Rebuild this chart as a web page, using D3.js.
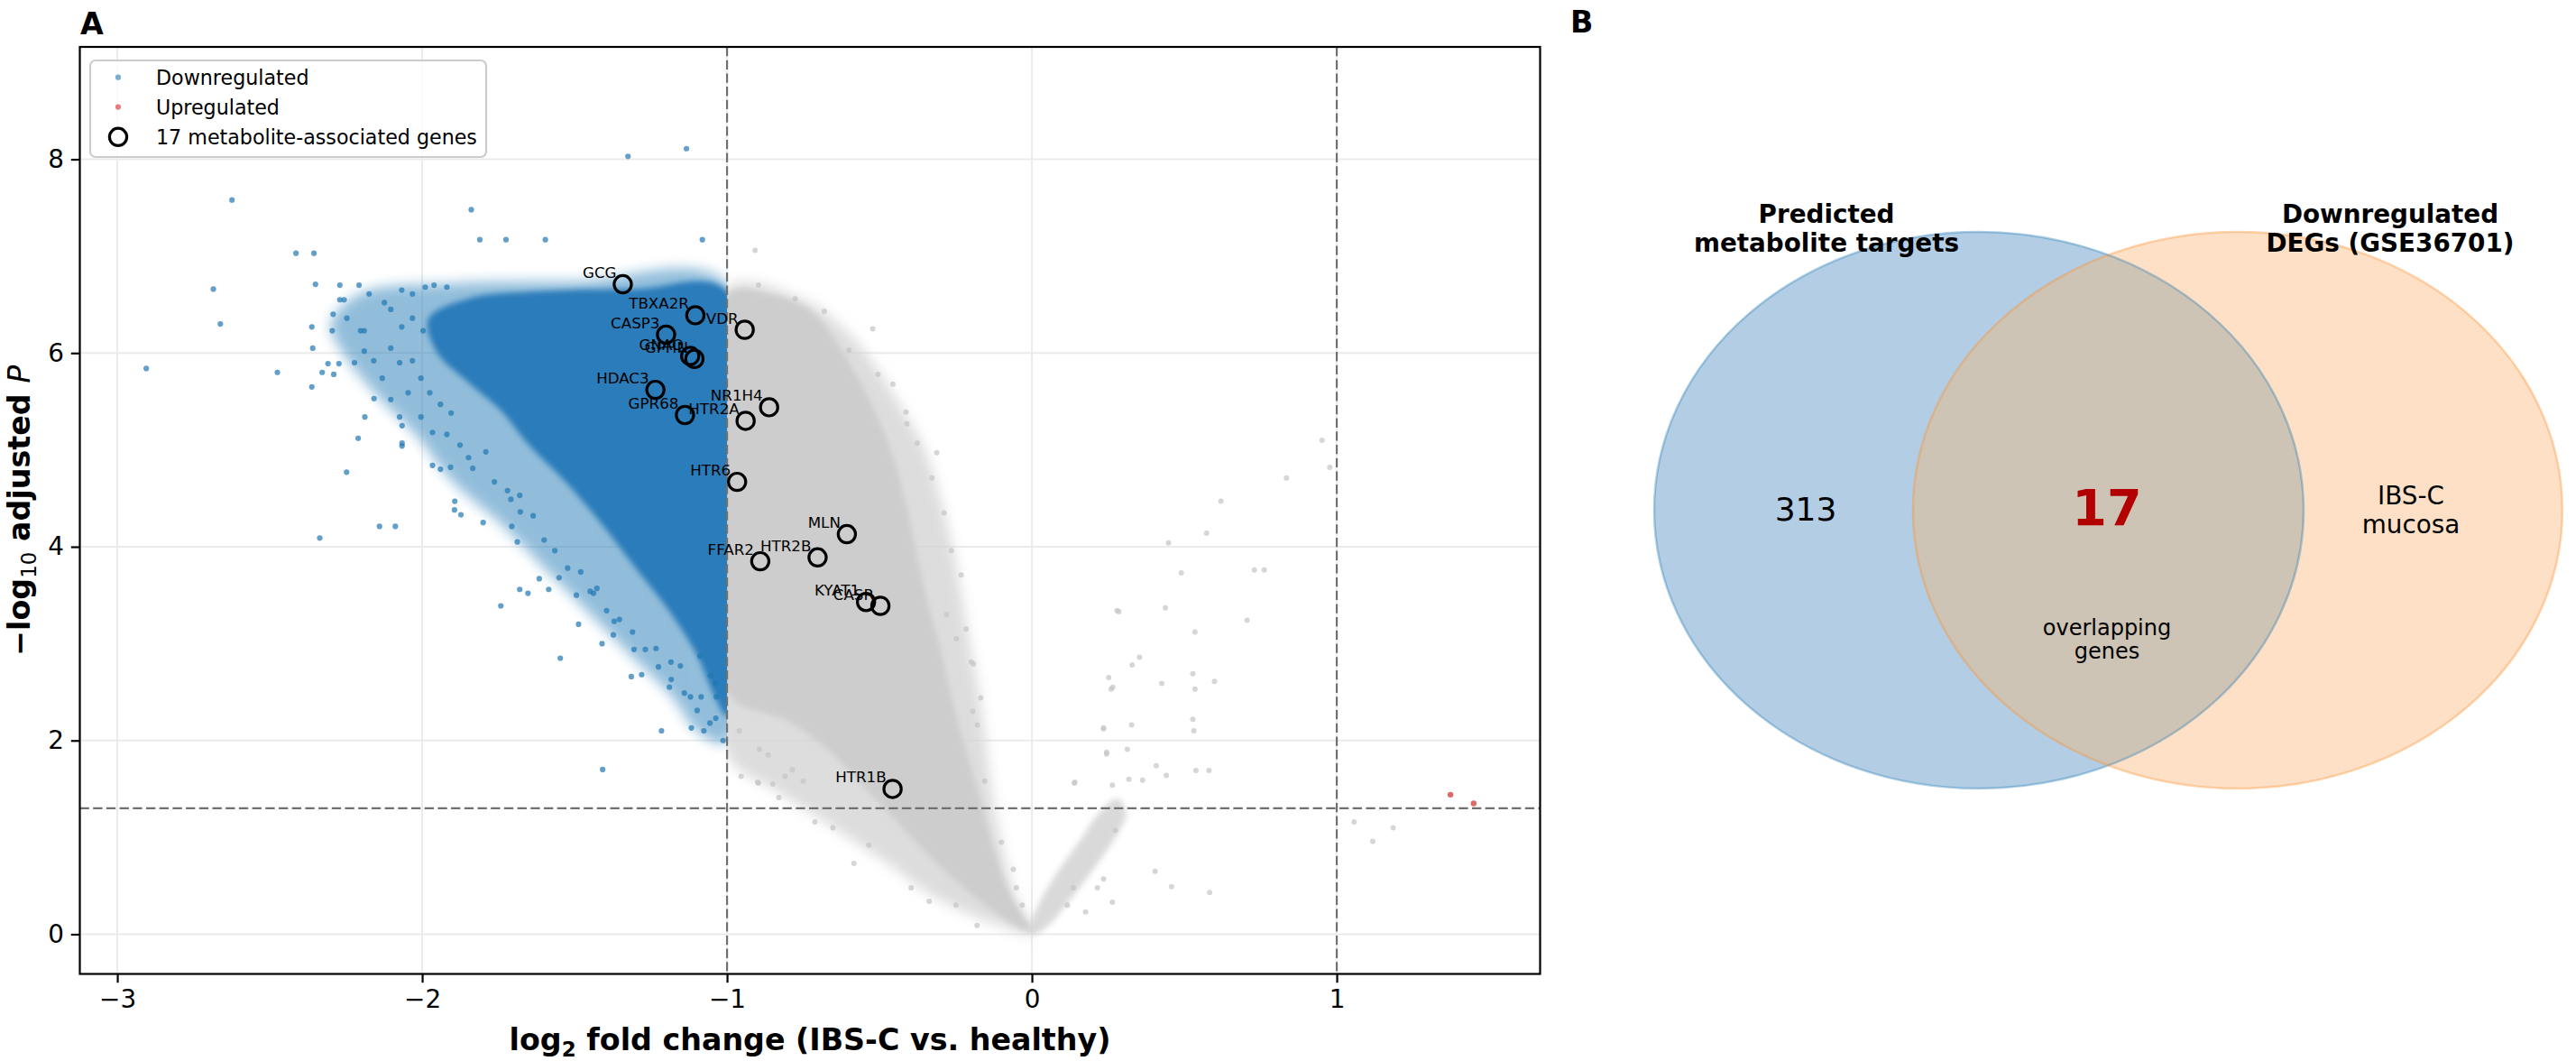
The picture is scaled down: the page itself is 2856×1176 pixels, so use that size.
<!DOCTYPE html>
<html>
<head>
<meta charset="utf-8">
<style>
    body { margin: 0; background: white; }
    svg text { font-family: "DejaVu Sans", sans-serif; }
</style>
<script src="https://cdn.jsdelivr.net/npm/d3@7"></script>
</head>
<body>
<svg id="figure"></svg>
<script>
// ---- panel A data ----
const xTicks = [-3, -2, -1, 0, 1];
const yTicks = [0, 2, 4, 6, 8];
const lfcCut = [-1, 1];
const padjCut = 1.301;

const geneNames = ["GCG", "TBXA2R", "VDR", "CASP3", "GNAQ", "GPHN", "HDAC3", "NR1H4", "GPR68",
                   "HTR2A", "HTR6", "MLN", "HTR2B", "FFAR2", "KYAT1", "CASR", "HTR1B"];
const geneLfc = [-1.342, -1.104, -0.942, -1.200, -1.121, -1.107, -1.235, -0.862, -1.138,
                 -0.939, -0.967, -0.607, -0.703, -0.891, -0.544, -0.497, -0.457];
const geneLogP = [6.71, 6.39, 6.24, 6.19, 5.97, 5.94, 5.62, 5.44, 5.36,
                  5.30, 4.67, 4.13, 3.89, 3.85, 3.43, 3.39, 1.50];

const upLfc = [1.373, 1.449];
const upLogP = [1.44, 1.35];

// dense parts of the clouds, traced as outlines [lfc, -log10 p]
const blueCoreOutline = [[-1,6.64],[-1.3,6.66],[-1.6,6.64],[-1.85,6.56],[-1.98,6.35],[-1.95,6.0],[-1.85,5.7],
    [-1.74,5.4],[-1.65,5.05],[-1.53,4.67],[-1.41,4.23],[-1.3,3.78],[-1.19,3.34],[-1.1,2.89],[-1.04,2.45],[-1.0,2.25]];
const blueHaloOutline = [[-1,6.72],[-1.5,6.74],[-1.9,6.72],[-2.2,6.62],[-2.3,6.3],[-2.26,6.0],[-2.16,5.6],
    [-2.02,5.15],[-1.9,4.67],[-1.74,4.23],[-1.6,3.78],[-1.46,3.34],[-1.32,2.89],[-1.18,2.45],[-1.1,2.1],[-1.0,1.98]];
const grayHaloOutline = [[-1,6.68],[-0.9,6.72],[-0.8,6.62],[-0.7,6.47],[-0.6,6.2],[-0.52,5.9],[-0.43,5.45],
    [-0.35,5.0],[-0.3,4.5],[-0.26,4.0],[-0.23,3.5],[-0.2,2.95],[-0.17,2.45],[-0.15,1.95],[-0.13,1.45],
    [-0.1,0.95],[-0.06,0.45],[0,0.0],[-0.08,0.06],[-0.2,0.2],[-0.34,0.42],[-0.46,0.7],[-0.58,0.95],
    [-0.7,1.2],[-0.85,1.5],[-1,1.85]];
const grayCoreOutline = [[-1,6.6],[-0.85,6.6],[-0.72,6.42],[-0.62,6.0],[-0.53,5.5],[-0.46,4.97],[-0.41,4.4],
    [-0.38,3.96],[-0.34,3.4],[-0.30,2.95],[-0.26,2.4],[-0.22,1.94],[-0.17,1.4],[-0.13,0.93],[-0.07,0.4],
    [0,0.02],[-0.06,0.1],[-0.16,0.32],[-0.26,0.58],[-0.36,0.88],[-0.46,1.22],[-0.56,1.55],[-0.66,1.88],
    [-0.8,2.2],[-1,2.5]];
const grayWingOutline = [[0,0],[0.04,0.05],[0.12,0.33],[0.2,0.66],[0.27,0.98],[0.31,1.25],[0.28,1.4],
    [0.22,1.25],[0.16,0.98],[0.09,0.67],[0.03,0.36],[-0.01,0.05]];

// single points outside the dense parts
const blueScatter = [[-2.624,7.58],[-1.325,8.03],[-1.133,8.11],[-1.839,7.48],[-1.811,7.17],[-1.725,7.17],
    [-1.596,7.17],[-1.081,7.17],[-2.414,7.03],[-2.355,7.03],[-2.685,6.66],[-2.35,6.71],[-2.662,6.30],
    [-2.905,5.84],[-2.475,5.80],[-2.362,6.27],[-2.359,6.05],[-2.362,5.65],[-2.27,6.70],[-2.207,6.70],
    [-2.27,6.55],[-2.256,6.55],[-2.174,6.61],[-2.292,6.40],[-2.247,6.36],[-2.295,6.23],[-2.19,6.23],
    [-2.309,5.89],[-2.273,5.89],[-2.29,5.78],[-2.328,5.80],[-2.222,5.90],[-2.19,6.02],[-2.158,5.53],
    [-2.188,5.34],[-2.21,5.12],[-2.248,4.77],[-2.336,4.09],[-2.14,4.21],[-2.088,4.21],[-2.066,5.25],
    [-2.066,5.07],[-2.066,5.04],[-1.966,5.18],[-1.966,4.84],[-1.94,4.80],[-1.907,4.82],[-1.893,4.47],
    [-1.873,4.33],[-1.894,4.38],[-1.8,4.25],[-1.742,3.39],[-1.68,3.56],[-1.653,3.52],[-1.547,2.85],
    [-1.487,3.20],[-1.408,1.70],[-1.314,2.66],[-1.28,2.68],[-1.215,2.10],[-1.117,2.13],[-1.076,2.10],
    [-1.037,2.23],[-1.12,2.45],[-1.085,2.45],[-1.035,2.45],[-1.189,2.55],[-1.616,3.67],[-1.551,3.68],
    [-1.585,3.56],[-1.706,4.21],[-1.688,4.05],[-1.709,4.49],[-1.68,4.53],[-1.494,3.50],[-1.449,3.54],
    [-1.427,3.57],[-1.373,3.09],[-1.305,2.94],[-1.233,2.95],[-1.41,3.0],[-1.37,3.23],[-1.184,2.81],
    [-1.153,2.77],[-1.055,2.67],[-1.038,2.59],[-1.089,2.87],[-2.124,6.52],[-2.103,6.45],[-2.067,6.65],
    [-2.032,6.61],[-1.99,6.68],[-1.961,6.70],[-1.919,6.68],[-2.067,6.27],[-2.032,6.36],[-1.997,6.23],
    [-2.103,6.05],[-2.074,5.90],[-2.032,5.92],[-2.004,5.74],[-2.046,5.59],[-1.975,5.59],[-1.94,5.47],
    [-1.905,5.38],[-2.004,5.34],[-1.919,5.16],[-1.876,5.05],[-1.848,4.92],[-1.834,4.81],[-1.791,4.98],
    [-1.763,4.67],[-1.72,4.58],[-1.678,4.36],[-1.636,4.32],[-1.60,4.07],[-1.565,3.96],[-1.523,3.78],
    [-1.48,3.74],[-1.438,3.52],[-1.395,3.34],[-1.353,3.25],[-1.31,3.12],[-1.268,2.94],[-1.225,2.76],
    [-1.183,2.63],[-1.14,2.49],[-1.098,2.31],[-1.056,2.18],[-1.013,2.0],[-2.202,6.23],[-2.159,5.92],
    [-2.131,5.74],[-2.103,5.52],[-2.074,5.34]];
const grayScatter = [[-0.954,1.63],[-0.90,1.57],[-0.85,1.55],[-0.81,1.63],[-0.786,1.70],[-0.75,1.58],
    [-0.865,1.85],[-0.894,1.91],[-0.96,2.10],[-0.83,1.41],[-0.712,1.16],[-0.653,1.10],[-0.584,0.73],
    [-0.535,0.92],[-0.396,0.48],[-0.337,0.34],[-0.249,0.30],[-0.18,0.09],[0.235,2.13],[0.245,1.88],
    [0.141,1.57],[0.264,1.54],[0.274,1.07],[0.26,2.53],[0.279,3.34],[0.235,0.57],[0.176,0.23],
    [0.215,0.48],[0.264,0.33],[0.136,0.48],[0.116,0.30],[-0.199,2.81],[-0.194,2.30],[-0.179,2.16],
    [-0.155,1.58],[-0.10,0.95],[-0.061,0.67],[-0.051,0.48],[-0.032,0.30],[-0.908,7.06],[-0.897,6.70],
    [-0.777,6.56],[-0.681,6.43],[-0.522,6.25],[-0.505,5.78],[-0.413,5.39],[-0.376,5.07],[-0.328,4.71],
    [-0.288,4.35],[-0.264,3.96],[-0.232,3.71],[-0.192,2.79],[-0.216,3.15],[-0.248,3.05],[-0.28,3.30],
    [-0.168,2.44],[-0.312,4.97],[-0.41,5.27],[-0.456,5.68],[-0.6,6.03],[-0.897,1.56],
    [0.952,5.10],[0.977,4.82],[0.835,4.71],[0.620,4.47],[0.573,4.14],[0.448,4.04],[0.490,3.73],
    [0.730,3.76],[0.762,3.76],[0.706,3.24],[0.438,3.37],[0.535,3.12],[0.285,3.33],[0.353,2.86],
    [0.329,2.78],[0.252,2.65],[0.265,2.55],[0.426,2.59],[0.528,2.69],[0.599,2.61],[0.535,2.53],
    [0.528,2.22],[0.531,2.10],[0.235,2.12],[0.327,2.16],[0.245,1.86],[0.313,1.91],[0.408,1.74],
    [0.441,1.64],[0.318,1.60],[0.363,1.59],[0.139,1.56],[0.538,1.69],[0.581,1.69],[1.057,1.16],
    [1.185,1.10],[1.118,0.96],[0.404,0.65],[0.458,0.49],[0.583,0.43]];

const legendLabels = ["Downregulated", "Upregulated", "17 metabolite-associated genes"];

// ---- panel B data ----
const vennTitles = [["Predicted", "metabolite targets"], ["Downregulated", "DEGs (GSE36701)"]];
const vennOnlyLeft = "313";
const vennShared = "17";
const vennShareNote = ["overlapping", "genes"];
const vennRightNote = ["IBS-C", "mucosa"];

const svg = d3.select("#figure").attr("width", 2856).attr("height", 1176);

function getVolcanoConfig() {
    let left = 88.5, right = 1707.5, top = 52, bottom = 1079.5;
    let xScale = d3.scaleLinear().domain([-3.123, 1.667]).range([left, right]);
    let yScale = d3.scaleLinear().domain([-0.41, 9.16]).range([bottom, top]);
    return { left, right, top, bottom, xScale, yScale };
}

function drawVolcano() {
    let { left, right, top, bottom, xScale, yScale } = getVolcanoConfig();
    let g = svg.append("g");

    let defs = svg.append("defs");
    defs.append("filter").attr("id", "soft").attr("x", "-20%").attr("y", "-20%").attr("width", "140%").attr("height", "140%")
        .append("feGaussianBlur").attr("stdDeviation", 7);
    defs.append("filter").attr("id", "softer").attr("x", "-20%").attr("y", "-20%").attr("width", "140%").attr("height", "140%")
        .append("feGaussianBlur").attr("stdDeviation", 3);
    defs.append("clipPath").attr("id", "grayClip").append("rect")
        .attr("x", xScale(-1)).attr("y", top).attr("width", right - xScale(-1)).attr("height", bottom - top);
    defs.append("clipPath").attr("id", "blueClip").append("rect")
        .attr("x", left).attr("y", top).attr("width", xScale(-1) - left).attr("height", bottom - top);

    // grid
    g.selectAll(".gx").data(xTicks).enter().append("line")
        .attr("x1", d => xScale(d)).attr("x2", d => xScale(d)).attr("y1", top).attr("y2", bottom)
        .attr("stroke", "#ebebeb").attr("stroke-width", 2);
    g.selectAll(".gy").data(yTicks).enter().append("line")
        .attr("y1", d => yScale(d)).attr("y2", d => yScale(d)).attr("x1", left).attr("x2", right)
        .attr("stroke", "#ebebeb").attr("stroke-width", 2);

    let area = d3.line().x(d => xScale(d[0])).y(d => yScale(d[1])).curve(d3.curveCatmullRomClosed.alpha(0.5));

    // gray (not significant) cloud
    let grayG = g.append("g").attr("clip-path", "url(#grayClip)");
    grayG.append("path").attr("d", area(grayHaloOutline)).attr("fill", "#d2d2d2").attr("opacity", 0.75).attr("filter", "url(#soft)");
    grayG.append("path").attr("d", area(grayWingOutline)).attr("fill", "#d0d0d0").attr("opacity", 0.8).attr("filter", "url(#softer)");
    grayG.append("path").attr("d", area(grayCoreOutline)).attr("fill", "#cdcdcd").attr("filter", "url(#softer)");
    g.selectAll(".gdot").data(grayScatter).enter().append("circle")
        .attr("cx", d => xScale(d[0])).attr("cy", d => yScale(d[1])).attr("r", 3)
        .attr("fill", "#c4c4c4").attr("opacity", 0.7);

    // blue (downregulated) cloud
    let blueG = g.append("g").attr("clip-path", "url(#blueClip)");
    blueG.append("path").attr("d", area(blueHaloOutline)).attr("fill", "#1f77b4").attr("opacity", 0.48).attr("filter", "url(#soft)");
    blueG.append("path").attr("d", area(blueCoreOutline)).attr("fill", "#2b7bba").attr("filter", "url(#softer)");
    g.selectAll(".bdot").data(blueScatter).enter().append("circle")
        .attr("cx", d => xScale(d[0])).attr("cy", d => yScale(d[1])).attr("r", 3.1)
        .attr("fill", "#1f77b4").attr("opacity", 0.7);

    // upregulated
    g.selectAll(".udot").data(upLfc).enter().append("circle")
        .attr("cx", d => xScale(d)).attr("cy", (d, i) => yScale(upLogP[i])).attr("r", 3.2)
        .attr("fill", "#d62728").attr("opacity", 0.7);

    // thresholds
    g.selectAll(".vcut").data(lfcCut).enter().append("line")
        .attr("x1", d => xScale(d)).attr("x2", d => xScale(d)).attr("y1", top).attr("y2", bottom)
        .attr("stroke", "#707070").attr("stroke-width", 2.2).attr("stroke-dasharray", "10.3,4.4");
    g.append("line").attr("x1", left).attr("x2", right).attr("y1", yScale(padjCut)).attr("y2", yScale(padjCut))
        .attr("stroke", "#707070").attr("stroke-width", 2.2).attr("stroke-dasharray", "10.3,4.4");

    // highlighted genes
    g.selectAll(".gene").data(geneNames).enter().append("circle")
        .attr("cx", (d, i) => xScale(geneLfc[i])).attr("cy", (d, i) => yScale(geneLogP[i])).attr("r", 9.6)
        .attr("fill", "none").attr("stroke", "black").attr("stroke-width", 3.2);
    g.selectAll(".glabel").data(geneNames).enter().append("text")
        .attr("x", (d, i) => xScale(geneLfc[i]) - 7).attr("y", (d, i) => yScale(geneLogP[i]) - 7)
        .attr("text-anchor", "end").attr("font-size", 16.7).text(d => d);

    // frame
    g.append("rect").attr("x", left).attr("y", top).attr("width", right - left).attr("height", bottom - top)
        .attr("fill", "none").attr("stroke", "black").attr("stroke-width", 2.2);

    // axes
    let axisX = d3.axisBottom(xScale).tickValues(xTicks).tickFormat(d3.format("d")).tickSize(9.7).tickPadding(8);
    let ax = g.append("g").attr("transform", `translate(0,${bottom})`).call(axisX);
    let axisY = d3.axisLeft(yScale).tickValues(yTicks).tickFormat(d3.format("d")).tickSize(9.7).tickPadding(8);
    let ay = g.append("g").attr("transform", `translate(${left},0)`).call(axisY);
    [ax, ay].forEach(a => {
        a.select(".domain").remove();
        a.selectAll(".tick line").attr("stroke", "black").attr("stroke-width", 2.2);
        a.selectAll(".tick text").attr("font-size", 27.8).attr("fill", "black")
            .attr("font-family", "DejaVu Sans");
    });

    // axis labels
    let xl = g.append("text").attr("x", (left + right) / 2).attr("y", 1164).attr("text-anchor", "middle")
        .attr("font-size", 33.3).attr("font-weight", "bold");
    xl.append("tspan").text("log");
    xl.append("tspan").attr("font-size", 23).attr("dy", 7).text("2");
    xl.append("tspan").attr("dy", -7).text(" fold change (IBS-C vs. healthy)");

    let yl = g.append("text").attr("transform", `translate(33,${(top + bottom) / 2}) rotate(-90)`)
        .attr("text-anchor", "middle").attr("font-size", 33.3).attr("font-weight", "bold");
    yl.append("tspan").text("\u2212log");
    yl.append("tspan").attr("font-size", 23).attr("font-weight", "normal").attr("dy", 7).text("10");
    yl.append("tspan").attr("dy", -7).text(" adjusted ");
    yl.append("tspan").attr("font-style", "italic").attr("font-weight", "normal").text("P");

    // legend
    let lg = g.append("g");
    lg.append("rect").attr("x", 100).attr("y", 67).attr("width", 439).attr("height", 107).attr("rx", 6)
        .attr("fill", "white").attr("fill-opacity", 0.8).attr("stroke", "#cccccc").attr("stroke-width", 2.2);
    let rows = [85.7, 118.6, 151.8];
    lg.append("circle").attr("cx", 131).attr("cy", rows[0]).attr("r", 3.1).attr("fill", "#1f77b4").attr("opacity", 0.6);
    lg.append("circle").attr("cx", 131).attr("cy", rows[1]).attr("r", 3.1).attr("fill", "#d62728").attr("opacity", 0.6);
    lg.append("circle").attr("cx", 131).attr("cy", rows[2]).attr("r", 9.6).attr("fill", "none")
        .attr("stroke", "black").attr("stroke-width", 3.2);
    lg.selectAll(".ltext").data(legendLabels).enter().append("text")
        .attr("x", 173).attr("y", (d, i) => rows[i] + 8).attr("font-size", 22.2).text(d => d);

    svg.append("text").attr("x", 89).attr("y", 37.5).attr("font-size", 33.3).attr("font-weight", "bold").text("A");
}

function drawVenn() {
    // one unit = circle radius; the axes are not equal so the circles become ellipses
    let vx = d3.scaleLinear().domain([0, 1]).range([2194, 2554]);
    let vy = d3.scaleLinear().domain([0, 1]).range([565.5, 257]);
    let centers = [0, 0.797];
    let rx = vx(1) - vx(0), ry = vy(0) - vy(1);
    let g = svg.append("g");

    svg.select("defs").append("clipPath").attr("id", "leftSet").append("ellipse")
        .attr("cx", vx(centers[0])).attr("cy", vy(0)).attr("rx", rx).attr("ry", ry);

    g.append("ellipse").attr("cx", vx(centers[0])).attr("cy", vy(0)).attr("rx", rx).attr("ry", ry).attr("fill", "#b3cee4");
    g.append("ellipse").attr("cx", vx(centers[1])).attr("cy", vy(0)).attr("rx", rx).attr("ry", ry).attr("fill", "#fde0c5");
    g.append("ellipse").attr("cx", vx(centers[1])).attr("cy", vy(0)).attr("rx", rx).attr("ry", ry)
        .attr("clip-path", "url(#leftSet)").attr("fill", "#cdc4b5");
    g.append("ellipse").attr("cx", vx(centers[0])).attr("cy", vy(0)).attr("rx", rx).attr("ry", ry)
        .attr("fill", "none").attr("stroke", "#1f77b4").attr("stroke-opacity", 0.35).attr("stroke-width", 2.5);
    g.append("ellipse").attr("cx", vx(centers[1])).attr("cy", vy(0)).attr("rx", rx).attr("ry", ry)
        .attr("fill", "none").attr("stroke", "#ff7f0e").attr("stroke-opacity", 0.3).attr("stroke-width", 2.5);

    let titleX = [2025, 2650];
    vennTitles.forEach((lines, k) => {
        lines.forEach((t, j) => {
            g.append("text").attr("x", titleX[k]).attr("y", 247 + j * 32).attr("text-anchor", "middle")
                .attr("font-size", 27.8).attr("font-weight", "bold").text(t);
        });
    });

    g.append("text").attr("x", 2002).attr("y", 577).attr("text-anchor", "middle").attr("font-size", 36).text(vennOnlyLeft);
    g.append("text").attr("x", 2336).attr("y", 582).attr("text-anchor", "middle").attr("font-size", 55.6)
        .attr("font-weight", "bold").attr("fill", "#b30000").text(vennShared);
    vennShareNote.forEach((t, j) => {
        g.append("text").attr("x", 2336).attr("y", 704 + j * 26).attr("text-anchor", "middle").attr("font-size", 24).text(t);
    });
    vennRightNote.forEach((t, j) => {
        g.append("text").attr("x", 2673).attr("y", 559 + j * 32).attr("text-anchor", "middle").attr("font-size", 27.8).text(t);
    });

    svg.append("text").attr("x", 1741).attr("y", 36).attr("font-size", 33.3).attr("font-weight", "bold").text("B");
}

drawVolcano();
drawVenn();
</script>
</body>
</html>
